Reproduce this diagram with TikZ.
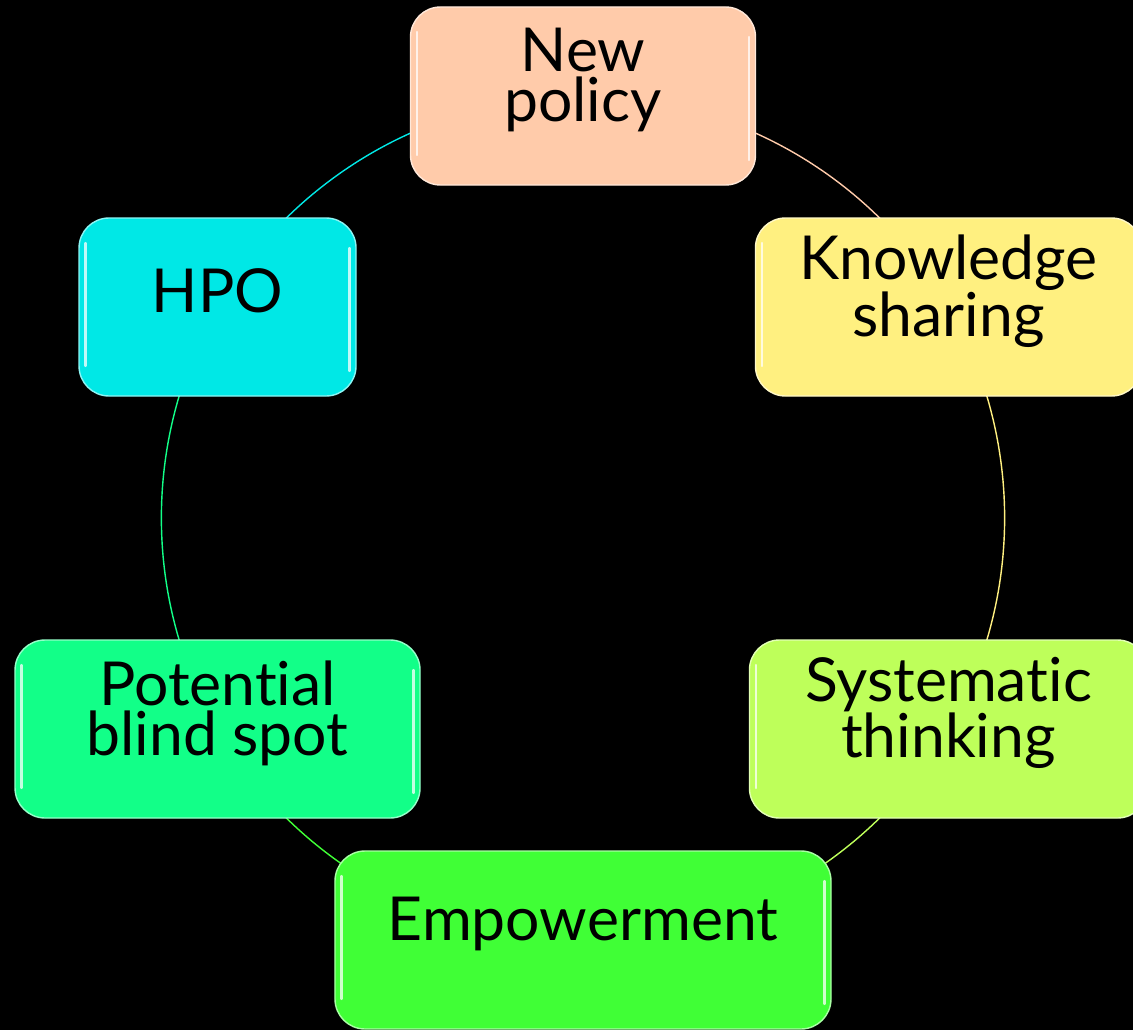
\documentclass[tikz,border=0pt]{standalone}
\usepackage{fontspec}
\setmainfont{Lato}[Ligatures=NoCommon]
\pgfdeclarelayer{bg}
\pgfsetlayers{bg,main}
\definecolor{cPeach}{HTML}{FFCBAA}
\definecolor{cLemon}{HTML}{FFF080}
\definecolor{cLime}{HTML}{BEFF5A}
\definecolor{cGreen}{HTML}{40FF36}
\definecolor{cSpring}{HTML}{12FF88}
\definecolor{cCyan}{HTML}{00E8E6}
\begin{document}
\begin{tikzpicture}
\def\r{8.44}
\tikzset{box/.style={fill=#1,draw=#1!45!white,line width=0.8pt,rounded corners=0.6cm,
minimum height=3.56cm,inner sep=0pt,glint},
glint/.style={path picture={
\draw[white,opacity=0.75,line width=1.2pt,line cap=round]
([xshift=0.13cm,yshift=-0.5cm]path picture bounding box.north west) --
([xshift=0.13cm,yshift=0.6cm]path picture bounding box.south west);
\draw[white,opacity=0.75,line width=1.2pt,line cap=round]
([xshift=-0.13cm,yshift=-0.6cm]path picture bounding box.north east) --
([xshift=-0.13cm,yshift=0.5cm]path picture bounding box.south east);}},
txt/.style={font=\fontsize{34.5}{28.5}\selectfont,align=center,text=black,yshift=0.32cm},
ring/.style={line width=0.8pt,bend left=30,looseness=0.91}}
\useasboundingbox (-11.66,-10.24) rectangle (11.0,10.36);
\node[box=cPeach,minimum width=6.9cm,label={[txt]center:New\\policy}] at (90:\r) (NP) {};
\node[box=cLemon,minimum width=7.72cm,label={[txt]center:Knowledge\\sharing}] at (30:\r) (KS) {};
\node[box=cLime,minimum width=7.96cm,label={[txt]center:Systematic\\thinking}] at (-30:\r) (ST) {};
\node[box=cGreen,minimum width=9.92cm,label={[txt]center:Empowerment}] at (-90:\r) (EM) {};
\node[box=cSpring,minimum width=8.1cm,label={[txt]center:Potential\\blind spot}] at (-150:\r) (PB) {};
\node[box=cCyan,minimum width=5.54cm,label={[txt]center:HPO}] at (150:\r) (HPO) {};
\begin{pgfonlayer}{bg}
\fill[black] (-11.66,-10.24) rectangle (11.0,10.36);
\draw[ring,cPeach] (NP.center) to (KS.center);
\draw[ring,cLemon] (KS.center) to (ST.center);
\draw[ring,cLime] (ST.center) to (EM.center);
\draw[ring,cGreen] (EM.center) to (PB.center);
\draw[ring,cSpring] (PB.center) to (HPO.center);
\draw[ring,cCyan] (HPO.center) to (NP.center);
\end{pgfonlayer}
\end{tikzpicture}
\end{document}
